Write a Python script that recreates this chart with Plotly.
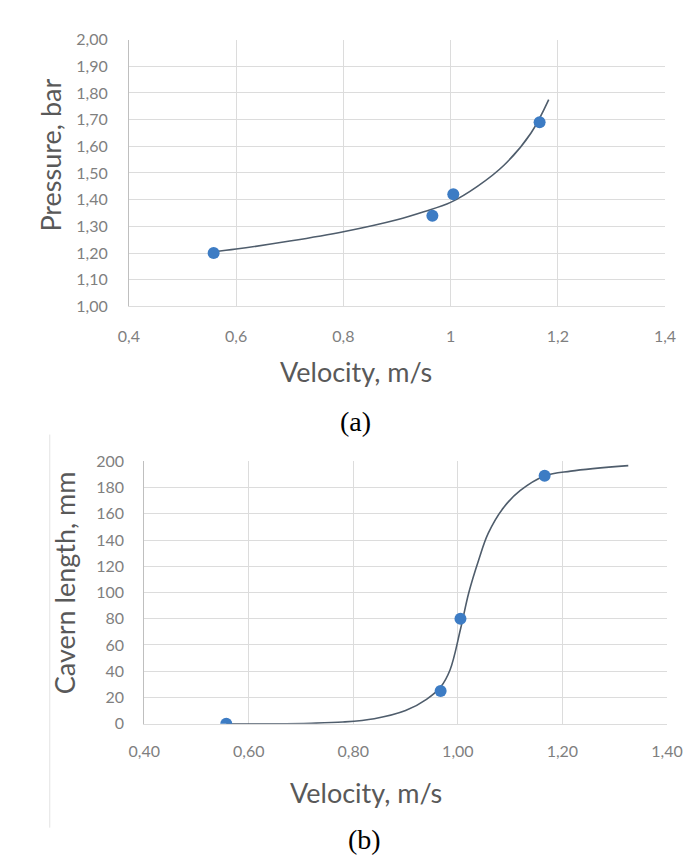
import plotly.graph_objects as go

# ---- data (a) ----
velocity_a = [0.558, 0.966, 1.005, 1.166]
pressure_a = [1.20, 1.34, 1.42, 1.69]
trend_a_x = [0.558, 0.60, 0.70, 0.80, 0.90, 0.95, 1.00, 1.05, 1.10, 1.15, 1.183]
trend_a_y = [1.205, 1.215, 1.245, 1.28, 1.325, 1.355, 1.39, 1.45, 1.53, 1.65, 1.775]

# ---- data (b) ----
velocity_b = [0.557, 0.967, 1.005, 1.166]
length_b = [0, 25, 80, 189]
trend_b_x = [0.557, 0.65, 0.72, 0.78, 0.84, 0.90, 0.94, 0.967, 0.985, 1.005, 1.021, 1.04, 1.058, 1.088, 1.119, 1.166, 1.216, 1.326]
trend_b_y = [0, 0, 0.4, 1.3, 3.8, 10, 18.6, 28, 41, 72, 100, 125, 145, 165, 177.6, 188.8, 192.5, 196.7]

W, H = 695, 859
def px(x): return x / W
def py(y): return 1 - y / H

LINE = "#4f5d6c"
MARK = "#3d7cc4"
GRID = "#dcdcdc"
TICK = "#7f7f7f"
TITLE = "#595959"
FONT = "Lato, 'Open Sans', sans-serif"
SERIF = "Liberation Serif, serif"

fig = go.Figure()
fig.add_trace(go.Scatter(x=trend_a_x, y=trend_a_y, mode="lines", line=dict(color=LINE, width=1.6, shape="spline"),
                         xaxis="x", yaxis="y", showlegend=False, hoverinfo="skip"))
fig.add_trace(go.Scatter(x=velocity_a, y=pressure_a, mode="markers", marker=dict(color=MARK, size=12),
                         xaxis="x", yaxis="y", showlegend=False))
fig.add_trace(go.Scatter(x=trend_b_x, y=trend_b_y, mode="lines", line=dict(color=LINE, width=1.6, shape="spline"),
                         xaxis="x2", yaxis="y2", showlegend=False, hoverinfo="skip"))
fig.add_trace(go.Scatter(x=velocity_b, y=length_b, mode="markers", marker=dict(color=MARK, size=12),
                         xaxis="x2", yaxis="y2", showlegend=False))

tickfont = dict(family=FONT, size=16, color=TICK)
def xcommon(tl):
    return dict(showgrid=True, gridcolor=GRID, gridwidth=1, zeroline=False, showline=True, linecolor=GRID,
                ticks="outside", ticklen=tl, tickcolor="rgba(0,0,0,0)", tickfont=tickfont, range=[0.4, 1.4],
                dtick=0.2, tick0=0.4)
def ycommon(tl):
    return dict(showgrid=True, gridcolor=GRID, gridwidth=1, zeroline=False, showline=True, linecolor="#bfbfbf",
                ticks="outside", ticklen=tl, tickcolor="rgba(0,0,0,0)", tickfont=tickfont)

fig.update_layout(
    width=W, height=H, margin=dict(l=0, r=0, t=0, b=0),
    paper_bgcolor="white", plot_bgcolor="white", separators=",.",
    xaxis=dict(domain=[px(110), px(672)], anchor="y", **xcommon(15)),
    yaxis=dict(domain=[py(295), py(22)], anchor="x", range=[1.0, 2.0], dtick=0.1, tickformat=".2f", **ycommon(17)),
    xaxis2=dict(domain=[px(126), px(674)], anchor="y2", tickformat=".2f", **xcommon(13)),
    yaxis2=dict(domain=[py(721.7), py(453.3)], anchor="x2", range=[0, 200], dtick=20, **ycommon(16)),
    font=dict(family=FONT),
)

ann = [
    dict(text="Pressure, bar", x=px(28), y=py(140), textangle=-90, font=dict(size=27, color=TITLE)),
    dict(text="Velocity, m/s", x=px(348), y=py(361), font=dict(size=27, color=TITLE)),
    dict(text="(a)", x=px(348), y=py(413), font=dict(size=28, color="black", family=SERIF)),
    dict(text="Cavern length, mm", x=px(42), y=py(578), textangle=-90, font=dict(size=27, color=TITLE)),
    dict(text="Velocity, m/s", x=px(358), y=py(792), font=dict(size=27, color=TITLE)),
    dict(text="(b)", x=px(357), y=py(840), font=dict(size=28, color="black", family=SERIF)),
]
for a in ann:
    fig.add_annotation(xref="paper", yref="paper", showarrow=False, xanchor="center", yanchor="middle", **a)

fig.add_shape(type="line", xref="paper", yref="paper", x0=px(27), x1=px(27), y0=py(828), y1=py(426),
              line=dict(color="#e3e3e3", width=1))

fig.write_html("out.html")
